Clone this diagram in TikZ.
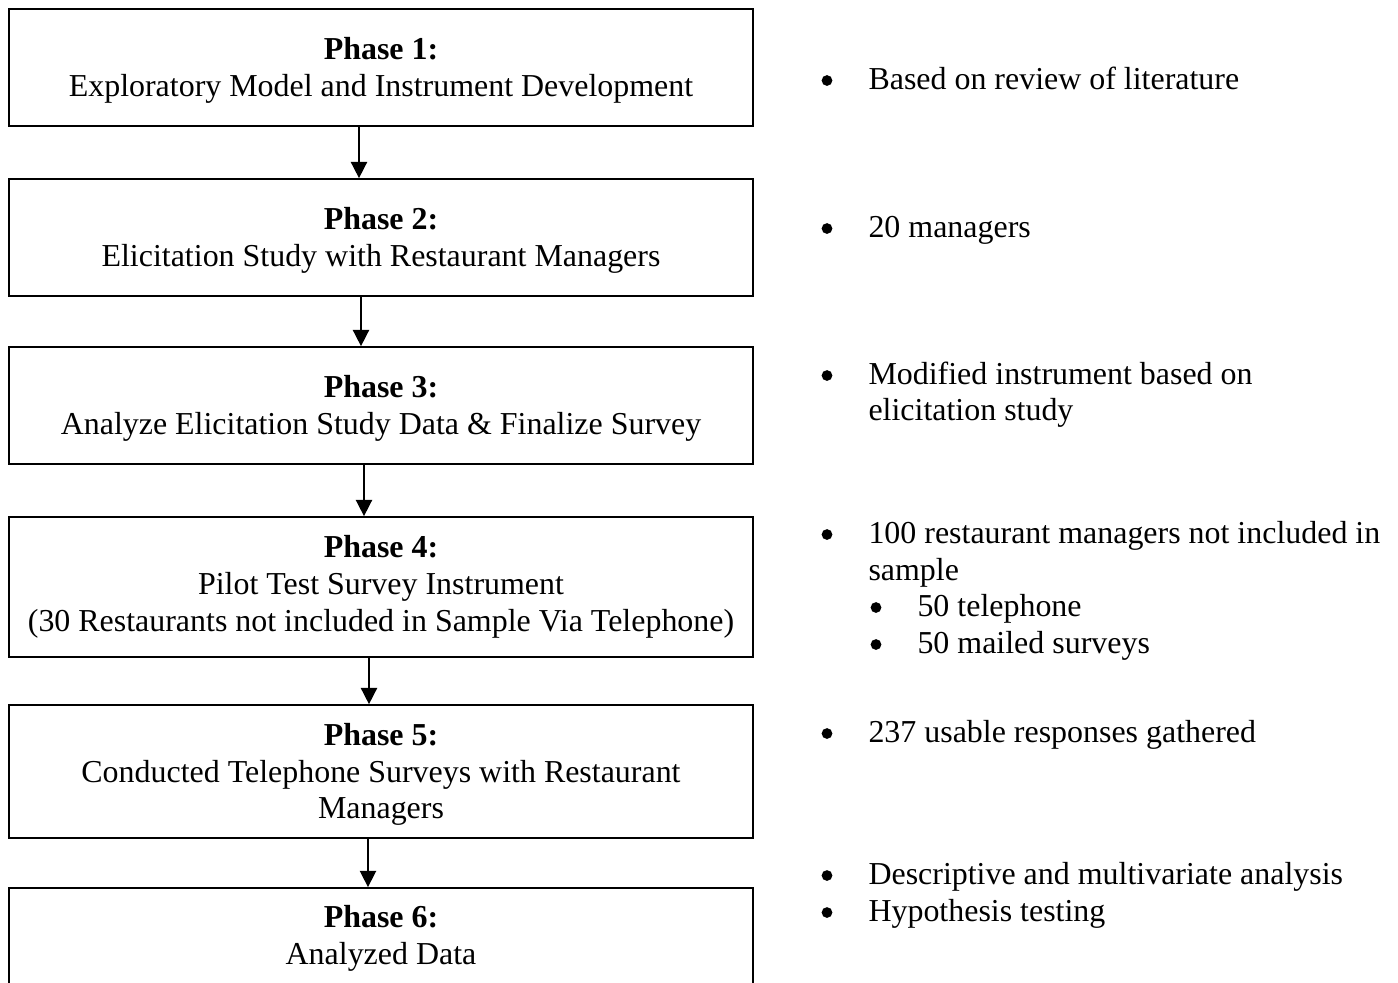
\documentclass[tikz,border=0pt]{standalone}
\usepackage{fontspec}
\setmainfont{Liberation Serif}
\usetikzlibrary{arrows.meta}
\begin{document}
\begin{tikzpicture}[x=0.382pt,y=-0.382pt,
  phasebox/.style={draw, line width=0.65pt, inner sep=0pt, minimum width=284.2pt},
  boxtext/.style={inner sep=0pt, align=center, font=\fontsize{12.2}{14.1}\selectfont},
  flow/.style={line width=0.6pt, -{Triangle[length=6.2pt,width=6.2pt]}},
  note/.style={anchor=base west, inner sep=0pt, font=\fontsize{12.2}{14.1}\selectfont},
  dot/.style={circle, fill, inner sep=0pt, minimum size=4.1pt}]
\useasboundingbox (0,0) rectangle (1398,982);
\node[phasebox, minimum height=44.7pt] (b1) at (381,67.5) {};
\node[phasebox, minimum height=44.7pt] (b2) at (381,237.5) {};
\node[phasebox, minimum height=44.7pt] (b3) at (381,405.5) {};
\node[phasebox, minimum height=53.5pt] (b4) at (381,587) {};
\node[phasebox, minimum height=50.8pt] (b5) at (381,771.5) {};
\node[phasebox, minimum height=37.1pt] (b6) at (381,936.5) {};

\node[boxtext] (t1) at ([yshift=-1.1pt]b1.center) {\textbf{Phase 1:}\\Exploratory Model and Instrument Development};
\node[boxtext] (t2) at ([yshift=-1.1pt]b2.center) {\textbf{Phase 2:}\\Elicitation Study with Restaurant Managers};
\node[boxtext] (t3) at ([yshift=-1.1pt]b3.center) {\textbf{Phase 3:}\\Analyze Elicitation Study Data \& Finalize Survey};
\node[boxtext] (t4) at (b4.center) {\textbf{Phase 4:}\\Pilot Test Survey Instrument\\(30 Restaurants not included in Sample Via Telephone)};
\node[boxtext] (t5) at ([yshift=-1.1pt]b5.center) {\textbf{Phase 5:}\\Conducted Telephone Surveys with Restaurant\\Managers};
\node[boxtext] (t6) at ([yshift=-0.8pt]b6.center) {\textbf{Phase 6:}\\Analyzed Data};

\draw[flow] (b1.south -| 359,0) -- (b2.north -| 359,0);
\draw[flow] (b2.south -| 361,0) -- (b3.north -| 361,0);
\draw[flow] (b3.south -| 364,0) -- (b4.north -| 364,0);
\draw[flow] (b4.south -| 369,0) -- (b5.north -| 369,0);
\draw[flow] (b5.south -| 368,0) -- (b6.north -| 368,0);

\node[dot] (d1) at (827,80.5) {};
\node[note] (n1) at (868,89) {Based on review of literature};
\node[dot] (d2) at (827,228.5) {};
\node[note] (n2) at (868,237) {20 managers};
\node[dot] (d3) at (827,375.5) {};
\node[note] (n3a) at (868,384) {Modified instrument based on};
\node[note] (n3b) at (868,420) {elicitation study};
\node[dot] (d4) at (827,534.5) {};
\node[note] (n4a) at (868,543) {100 restaurant managers not included in};
\node[note] (n4b) at (868,580) {sample};
\node[dot] (d4a) at (876,607.5) {};
\node[note] (n4c) at (917,616) {50 telephone};
\node[dot] (d4b) at (876,644.5) {};
\node[note] (n4d) at (917,653) {50 mailed surveys};
\node[dot] (d5) at (827,733.5) {};
\node[note] (n5) at (868,742) {237 usable responses gathered};
\node[dot] (d6a) at (827,875.5) {};
\node[note] (n6a) at (868,884) {Descriptive and multivariate analysis};
\node[dot] (d6b) at (827,912.5) {};
\node[note] (n6b) at (868,921) {Hypothesis testing};
\end{tikzpicture}
\end{document}
